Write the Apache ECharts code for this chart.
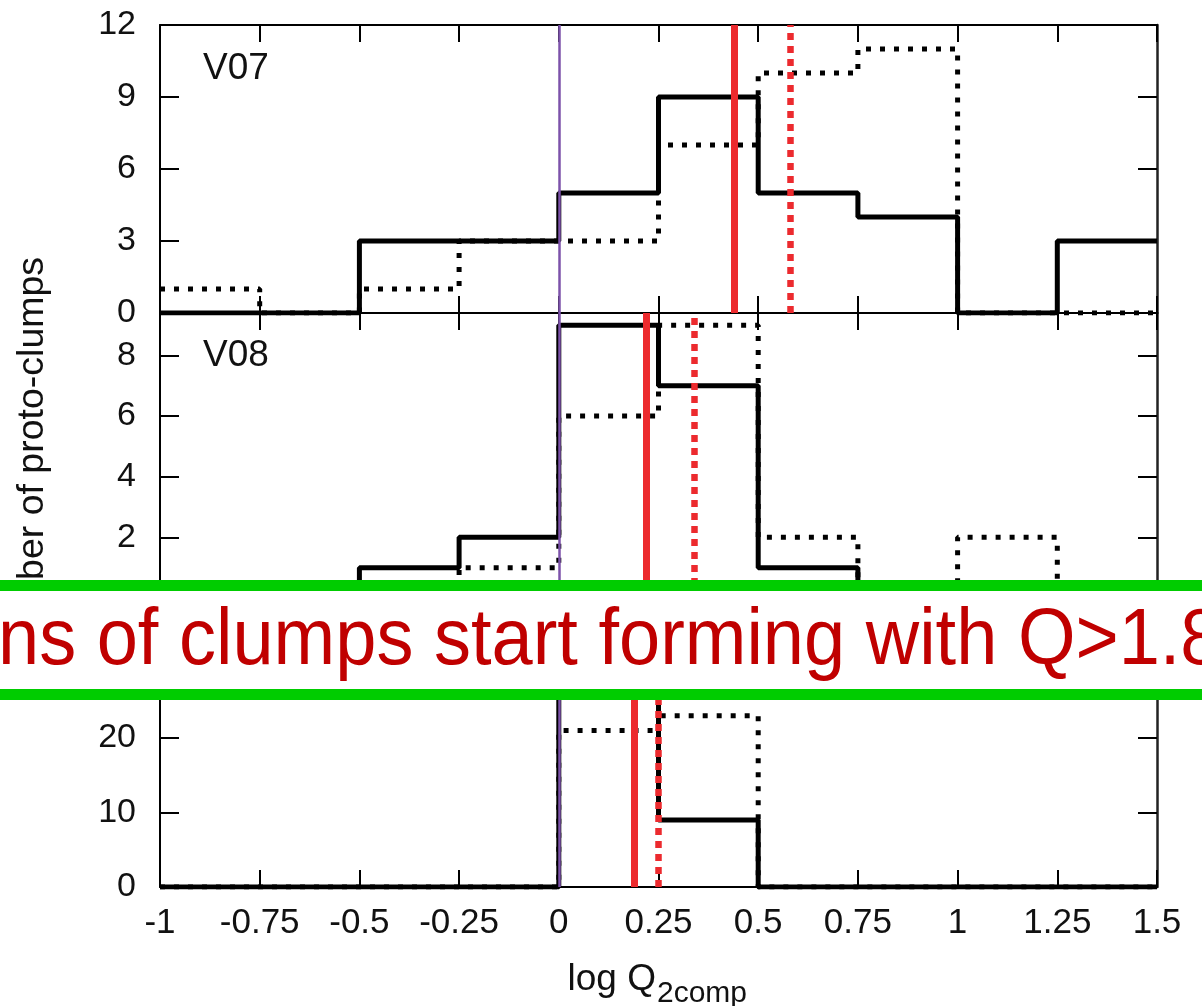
<!DOCTYPE html>
<html>
<head>
<meta charset="utf-8">
<script src="https://cdn.jsdelivr.net/npm/echarts@6/dist/echarts.min.js"></script>
<style>
  html, body { margin: 0; padding: 0; background: #ffffff; }
  #chart { width: 1202px; height: 1006px; }
</style>
</head>
<body>
<div id="chart"></div>
<script>
// Histogram bin edges in log Q_2comp
const binEdges = [-1, -0.75, -0.5, -0.25, 0, 0.25, 0.5, 0.75, 1, 1.25, 1.5];

// Panel labels
const panelNames = ['V07', 'V08', ''];

// Number of proto-clumps per bin (solid and dotted histograms)
const v07Solid  = [0, 0, 3, 3, 5, 9, 5, 4, 0, 3];
const v07Dotted = [1, 0, 1, 3, 3, 7, 10, 11, 0, 0];
const v08Solid  = [0, 0, 1, 2, 9, 7, 1, 0, 0, 0];
const v08Dotted = [0, 0, 0, 1, 6, 9, 2, 0, 2, 0];
const p3Solid   = [0, 0, 0, 0, 32, 9, 0, 0, 0, 0];
const p3Dotted  = [0, 0, 0, 0, 21, 23, 0, 0, 0, 0];

// Median log Q of each distribution (red markers)
const medianSolid  = [0.438, 0.222, 0.187];
const medianDotted = [0.579, 0.343, 0.248];

// Q = 1 reference (log Q = 0)
const unityLogQ = 0;

// Y ranges and tick steps per panel
const yMax      = [12, 9.4, 38.8];
const yInterval = [3, 2, 10];

const solidSets  = [v07Solid, v08Solid, p3Solid];
const dottedSets = [v07Dotted, v08Dotted, p3Dotted];

const FONT = '"Liberation Sans", Arial, Helvetica, sans-serif';
const panelTop    = [25, 313, 598];
const panelHeight = [288, 285, 289];
const plotLeft = 160, plotWidth = 997;

function stepData(vals) {
  const d = vals.map((v, i) => [binEdges[i], v]);
  d.push([binEdges[vals.length], vals[vals.length - 1]]);
  return d;
}

const grids = [], xAxes = [], yAxes = [], series = [];

for (let p = 0; p < 3; p++) {
  grids.push({ left: plotLeft, width: plotWidth, top: panelTop[p], height: panelHeight[p], show: false });

  const axisLine = { show: true, onZero: false, lineStyle: { color: '#000', width: 2 } };
  const xTick = { show: true, inside: true, length: 17, lineStyle: { color: '#000', width: 2 } };
  const yTick = { show: true, inside: true, length: 19, lineStyle: { color: '#000', width: 2 } };

  // bottom x axis
  xAxes.push({
    type: 'value', gridIndex: p, position: 'bottom', min: -1, max: 1.5, interval: 0.25,
    axisLine: axisLine, axisTick: xTick, splitLine: { show: false },
    axisLabel: { show: p === 2, color: '#111', fontFamily: FONT, fontSize: 35, margin: 19 }
  });
  // top x axis (ticks only)
  xAxes.push({
    type: 'value', gridIndex: p, position: 'top', min: -1, max: 1.5, interval: 0.25,
    axisLine: axisLine, axisTick: xTick, splitLine: { show: false },
    axisLabel: { show: false }
  });
  // left y axis
  yAxes.push({
    type: 'value', gridIndex: p, position: 'left', min: 0, max: yMax[p], interval: yInterval[p],
    axisLine: axisLine, axisTick: yTick, splitLine: { show: false },
    axisLabel: { color: '#111', fontFamily: FONT, fontSize: 34, margin: 24, showMaxLabel: p === 0 }
  });
  // right y axis (ticks only)
  yAxes.push({
    type: 'value', gridIndex: p, position: 'right', min: 0, max: yMax[p], interval: yInterval[p],
    axisLine: { show: true, onZero: false, lineStyle: { color: '#222', width: 2.5 } },
    axisTick: yTick, splitLine: { show: false },
    axisLabel: { show: false }
  });

  const xi = 2 * p, yi = 2 * p;

  series.push({
    type: 'line', step: 'end', xAxisIndex: xi, yAxisIndex: yi, symbol: 'none', z: 2,
    data: stepData(dottedSets[p]),
    lineStyle: { color: '#000', width: 5, type: [5, 9], cap: 'butt' }
  });
  series.push({
    type: 'line', step: 'end', xAxisIndex: xi, yAxisIndex: yi, symbol: 'none', z: 3,
    data: stepData(solidSets[p]),
    lineStyle: { color: '#000', width: 5, type: 'solid' }
  });
  // median markers and Q = 1 line
  series.push({
    type: 'line', xAxisIndex: xi, yAxisIndex: yi, data: [], z: 4,
    markLine: {
      silent: true, symbol: 'none', label: { show: false }, animation: false,
      data: [
        { xAxis: medianSolid[p], lineStyle: { color: '#ec2a2e', width: 7, type: 'solid' } },
        { xAxis: medianDotted[p], lineStyle: { color: '#ec2a2e', width: 6.5, type: [7, 6] } }
      ]
    }
  });
  series.push({
    type: 'line', xAxisIndex: xi, yAxisIndex: yi, data: [], z: 5,
    markLine: {
      silent: true, symbol: 'none', label: { show: false }, animation: false,
      data: [{ xAxis: unityLogQ, lineStyle: { color: '#7c52aa', width: 2.5, type: 'solid' } }]
    }
  });
}

const graphics = [
  // panel names
  { type: 'text', left: 203, top: 50, z: 10,
    style: { text: panelNames[0], font: '37px ' + FONT, fill: '#111' } },
  { type: 'text', left: 203, top: 337, z: 10,
    style: { text: panelNames[1], font: '37px ' + FONT, fill: '#111' } },
  // y axis title
  { type: 'text', x: 33, y: 458, rotation: Math.PI / 2, z: 10,
    style: { text: 'Number of proto-clumps', font: '37.5px ' + FONT, fill: '#111',
             align: 'center', verticalAlign: 'middle' } },
  // x axis title with subscript
  { type: 'text', x: 656, y: 980, z: 10,
    style: { text: 'log Q', font: '37px ' + FONT, fill: '#111', align: 'right', verticalAlign: 'middle' } },
  { type: 'text', x: 657, y: 994, z: 10,
    style: { text: '2comp', font: '30px ' + FONT, fill: '#111', align: 'left', verticalAlign: 'middle' } },
  // annotation banner
  { type: 'rect', z: 20, shape: { x: 0, y: 580, width: 1202, height: 120 }, style: { fill: '#ffffff' } },
  { type: 'rect', z: 21, shape: { x: 0, y: 580, width: 1202, height: 11 }, style: { fill: '#00cc00' } },
  { type: 'rect', z: 21, shape: { x: 0, y: 689, width: 1202, height: 11 }, style: { fill: '#00cc00' } },
  { type: 'text', x: -2, y: 641.5, scaleX: 0.925, scaleY: 1, z: 22,
    style: { text: 'ns of clumps start forming with Q>1.8', font: '80px ' + FONT, fill: '#c00000',
             align: 'left', verticalAlign: 'middle' } }
];

const chart = echarts.init(document.getElementById('chart'), null, { renderer: 'canvas' });
chart.setOption({
  animation: false,
  backgroundColor: '#ffffff',
  grid: grids,
  xAxis: xAxes,
  yAxis: yAxes,
  series: series,
  graphic: graphics
});
</script>
</body>
</html>
